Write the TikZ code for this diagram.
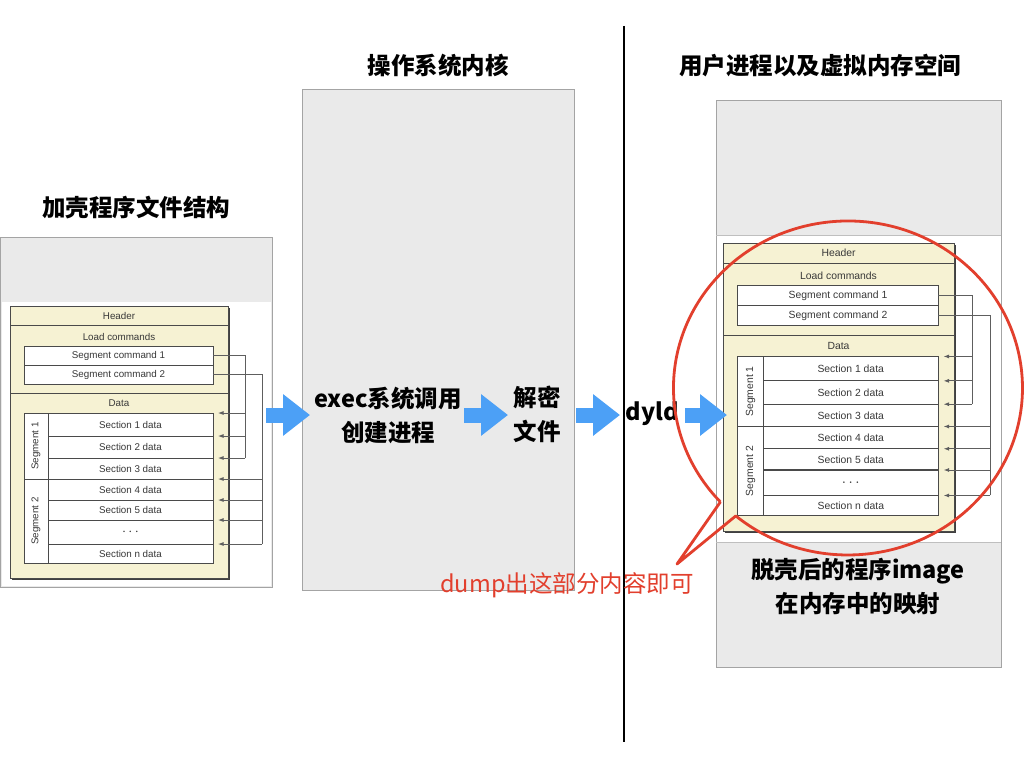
\documentclass[tikz,border=0pt]{standalone}
\usepackage{fontspec}
\setmainfont{Liberation Sans}
\newfontfamily\cjk{Noto Sans CJK SC}
\usepackage{tikz}
\usetikzlibrary{arrows.meta, positioning}
\definecolor{paneGray}{HTML}{EAEAEA}
\definecolor{paneEdge}{HTML}{A4A4A4}
\definecolor{cream}{HTML}{F6F2D3}
\definecolor{frame}{HTML}{4A4A4A}
\definecolor{ink}{HTML}{383838}
\definecolor{wire}{HTML}{5E5E5E}
\definecolor{flowBlue}{HTML}{4CA0F6}
\definecolor{calloutRed}{HTML}{E23F2D}

\newcommand{\machofile}{%
  \fill[black!75] (2,2) rectangle (220,274);
  \draw[frame, fill=cream, line width=0.9pt] (0,0) rectangle (218,272);
  \draw[frame, line width=0.9pt] (0,19) -- (218,19) (0,87) -- (218,87);
  \node[dtext] (hd) at (109,9.5) {Header};
  \node[dtext] (lc) at (109,31) {Load commands};
  \node[dtext] (dt) at (109,97) {Data};
  \node[cmdbox] (c1) at (14,40) {Segment command 1};
  \node[cmdbox, below=0pt of c1] (c2) {Segment command 2};
  \draw[frame, fill=white, line width=0.9pt] (14,107) rectangle (38,173) (14,173) rectangle (38,257);
  \node[dtext, rotate=90] (g1) at (26,140) {Segment 1};
  \node[dtext, rotate=90] (g2) at (26,215) {Segment 2};
  \node[sect, minimum height=23] (s1) at (38,107) {Section 1 data};
  \node[sect, minimum height=22, below=0pt of s1] (s2) {Section 2 data};
  \node[sect, minimum height=21, below=0pt of s2] (s3) {Section 3 data};
  \node[sect, minimum height=21, below=0pt of s3] (s4) {Section 4 data};
  \node[sect, minimum height=20, below=0pt of s4] (s5) {Section 5 data};
  \node[sect, minimum height=24, below=0pt of s5, font=\fontsize{15}{15}\selectfont] (sd) {$\cdots$};
  \node[sect, minimum height=19, below=0pt of sd] (sn) {Section n data};
  \draw[link] (c1.east) -| ([xshift=32]s3.north east);
  \draw[link] (c2.east) -| ([xshift=49]sn.north east);
  \draw[feed] ([xshift=32]s1.north east) -- ([xshift=5]s1.north east);
  \draw[feed] ([xshift=32]s2.north east) -- ([xshift=5]s2.north east);
  \draw[feed] ([xshift=32]s3.north east) -- ([xshift=5]s3.north east);
  \draw[feed] ([xshift=49]s4.north east) -- ([xshift=5]s4.north east);
  \draw[feed] ([xshift=49]s5.north east) -- ([xshift=5]s5.north east);
  \draw[feed] ([xshift=49]sd.north east) -- ([xshift=5]sd.north east);
  \draw[feed] ([xshift=49]sn.north east) -- ([xshift=5]sn.north east);
}

\begin{document}
\begin{tikzpicture}[x=1pt, y=-1pt,
  pane/.style={draw=paneEdge, fill=paneGray, line width=0.8pt},
  title/.style={font=\cjk\bfseries\fontsize{23.5}{34}\selectfont, align=center},
  dtext/.style={font=\fontsize{9.8}{10}\selectfont, text=ink},
  cmdbox/.style={dtext, draw=frame, fill=white, line width=0.9pt, minimum width=189, minimum height=19, inner sep=0, outer sep=0, anchor=north west},
  sect/.style={cmdbox, minimum width=165},
  link/.style={draw=wire, line width=0.9pt},
  feed/.style={link, -{Latex[length=5.5pt, width=4pt]}},
  flow/.style={draw=flowBlue, line width=15pt, -{Triangle[length=27pt, width=40pt]}},
  callout/.style={draw=calloutRed, line width=2.8pt, line join=round}]
  \useasboundingbox (0,0) rectangle (1024,768);
  \fill[white] (0,0) rectangle (1024,768);

  \draw[pane] (0.5,237) rectangle (272,587);
  \fill[white] (2,302) rectangle (270.5,585.5);
  \draw[pane] (302,89) rectangle (574,590);
  \draw[pane] (716,100) rectangle (1001,667);
  \fill[white] (717,235) rectangle (1000.5,542);
  \draw[paneEdge!70] (716,235) -- (1001,235) (716,542) -- (1001,542);

  \draw[line width=2pt] (624,26) -- (624,742);

  \node[title] (kernel) at (438,66) {操作系统内核};
  \node[title] (user) at (820,66) {用户进程以及虚拟内存空间};
  \node[title] (packed) at (136,208) {加壳程序文件结构};

  \begin{scope}[shift={(10,306)}, name prefix=L-]
    \machofile
  \end{scope}
  \begin{scope}[shift={(723,243)}, scale=1.06, transform shape, name prefix=R-]
    \machofile
  \end{scope}

  \node[title] (exec) at (388,415) {exec系统调用\\创建进程};
  \node[title] (decrypt) at (537,414) {解密\\文件};
  \node[title] (dyld) at (652,414) {dyld};
  \node[title] (image) at (858,586) {脱壳后的程序image\\在内存中的映射};

  \draw[flow] (266,415) -- (310,415);
  \draw[flow] (464,415) -- (508,415);
  \draw[flow] (576,415) -- (620,415);
  \draw[flow] (685,415) -- (727,415);

  \draw[callout] (720.4,501.9) -- (677,564) -- (735.8,515.9) arc[start angle=130, end angle=-223, x radius=174.5, y radius=167];
  \node[font=\cjk\fontsize{23.5}{30}\selectfont, text=calloutRed] (dump) at (567,585) {dump出这部分内容即可};
\end{tikzpicture}
\end{document}
